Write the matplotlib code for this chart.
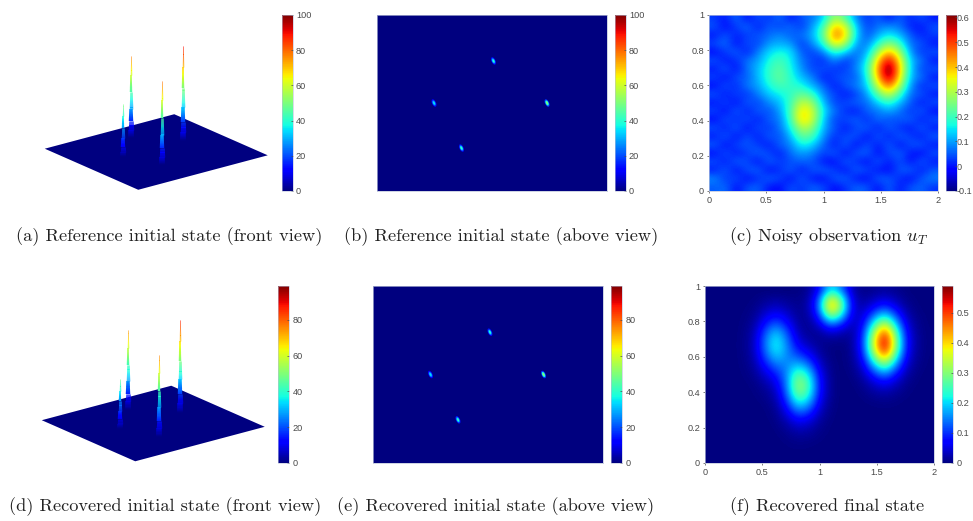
import numpy as np
import matplotlib
matplotlib.use("Agg")
import matplotlib.pyplot as plt
from matplotlib.colors import Normalize
from matplotlib.markers import MarkerStyle
from matplotlib.transforms import Affine2D
from mpl_toolkits.mplot3d import proj3d
from mpl_toolkits.mplot3d.art3d import Line3DCollection

# ---------- data ----------
captions = ["(a) Reference initial state (front view)", "(b) Reference initial state (above view)",
            r"(c) Noisy observation $u_T$", "(d) Recovered initial state (front view)",
            "(e) Recovered initial state (above view)", "(f) Recovered final state"]
spike_x_3d = [0.38, 0.89, 1.45, 0.89]
spike_y_3d = [0.53, 0.28, 0.385, 0.745]
spike_z_top = [78, 50, 80, 90]
spike_z_top_rec = [75, 47, 77, 88]
spike_x_top = [1.017, 0.50, 1.483, 0.739]
spike_y_top = [0.739, 0.50, 0.50, 0.244]
spike_level_top = [38, 34, 50, 40]
plane_x = [0, 2]
plane_y = [0, 1]
height_frac = [0, .1, .2, .3, .5, .7, .85, 1]
width_px = [6, 5.5, 4.5, 3.8, 2.8, 1.8, 1.2, .6]
grid_ticks_x = [0, 0.5, 1, 1.5, 2]
grid_ticks_x_labels = ["0", "0.5", "1", "1.5", "2"]
grid_ticks_y = [0, 0.2, 0.4, 0.6, 0.8, 1]
grid_ticks_y_labels = ["0", "0.2", "0.4", "0.6", "0.8", "1"]
cb_ticks_100 = [0, 20, 40, 60, 80, 100]
cb_ticks_rec = [0, 20, 40, 60, 80]
cb_ticks_c = [-0.1, 0, 0.1, 0.2, 0.3, 0.4, 0.5, 0.6]
cb_ticks_f = [0, 0.1, 0.2, 0.3, 0.4, 0.5]

# rows run from y=1.0 down to y=0.0 in 0.05 steps, columns x=0..2 in 0.1 steps
noisy_obs = [
 [.03,.00,.07,-.01,.05,.02,.07,.00,.05,.07,.13,.29,.22,.08,.02,.06,.00,.06,.01,.05,.00],
 [.05,-.01,.03,.07,.00,.06,.03,.07,.02,.10,.20,.41,.35,.13,.03,.07,.09,.07,.01,.00,.05],
 [.00,.05,.01,.03,.05,.06,.09,.05,.07,.11,.23,.47,.39,.14,.04,.11,.16,.12,.05,.01,.03],
 [.04,.07,-.01,.05,.03,.10,.11,.10,.02,.09,.18,.38,.30,.10,.07,.18,.27,.20,.06,.05,.00],
 [-.01,.03,.06,.00,.08,.14,.17,.15,.05,.03,.08,.19,.14,.06,.11,.28,.42,.29,.09,.02,.05],
 [.05,.00,.02,.07,.10,.17,.21,.16,.07,.04,.01,.09,.02,.07,.15,.39,.57,.37,.12,.07,.00],
 [.00,.06,-.01,.07,.12,.19,.23,.17,.09,.03,.05,.02,.03,.08,.18,.44,.65,.40,.13,.03,.05],
 [.04,-.01,.05,.05,.12,.19,.24,.18,.12,.08,.00,.04,.05,.05,.16,.41,.62,.37,.11,.07,.00],
 [-.01,.05,.01,.08,.10,.17,.21,.19,.17,.11,.06,.00,.05,.08,.13,.33,.48,.30,.09,.01,.05],
 [.05,.00,.04,.02,.08,.13,.16,.19,.24,.20,.08,.04,.00,.03,.10,.23,.33,.20,.06,.05,.00],
 [.00,.04,-.01,.06,.03,.09,.12,.20,.32,.28,.12,.03,.04,.06,.06,.14,.19,.12,.05,.00,.05],
 [.04,-.01,.06,.00,.06,.04,.10,.21,.39,.33,.15,.07,.02,.00,.06,.07,.11,.07,.02,.06,-.01],
 [-.01,.05,.01,.05,.00,.06,.07,.20,.40,.33,.13,.03,.04,.06,.01,.07,.04,.05,.06,.00,.05],
 [.05,.00,.06,-.01,.05,.02,.07,.16,.31,.27,.11,.05,.00,.04,.06,.00,.06,.02,.00,.06,.00],
 [.00,.06,-.01,.05,.00,.06,.04,.12,.24,.21,.09,.02,.04,.05,-.01,.06,.00,.06,.03,.00,.06],
 [.06,-.01,.04,.05,.03,.00,.06,.08,.17,.14,.06,.00,.06,-.01,.05,.00,.06,-.01,.05,.05,.00],
 [-.01,.05,.00,.03,.06,.04,.00,.07,.10,.08,.03,.06,-.01,.05,.06,-.01,.04,.06,.00,-.01,.05],
 [.05,.00,.06,.04,-.01,.06,.03,.04,.06,.05,.00,-.01,.06,.02,-.01,.06,.00,.05,-.01,.06,.00],
 [.00,.06,-.01,.05,.06,-.01,.02,.06,.00,.05,.06,.03,-.01,.06,.04,.00,-.01,.05,.06,.00,.05],
 [.09,.02,.05,-.01,.02,.06,.04,-.01,.06,.00,-.01,.05,.06,.00,-.01,.06,.05,.02,-.01,.05,.08],
 [.05,.07,-.01,.05,.06,.00,-.01,.05,.02,.06,.04,-.01,.02,.06,.05,-.01,.06,.00,.05,.06,.02],
]
recovered_final = [
 [0,0,0,0,0,0,0,0,.002,.01,.07,.22,.15,.025,.005,.011,.017,.009,.002,0,0],
 [0,0,0,0,.002,.01,.016,.01,.005,.017,.122,.383,.261,.045,.011,.03,.046,.025,.006,.001,0],
 [0,0,0,.001,.005,.024,.039,.024,.008,.021,.14,.44,.30,.052,.023,.07,.11,.059,.014,.002,0],
 [0,0,0,.002,.01,.048,.078,.048,.012,.015,.10,.317,.216,.041,.041,.141,.22,.118,.029,.005,.001],
 [0,0,0,.003,.017,.081,.133,.081,.018,.009,.048,.15,.102,.025,.064,.233,.365,.195,.047,.008,.001],
 [0,0,0,.004,.025,.118,.193,.121,.031,.01,.016,.044,.03,.015,.087,.322,.505,.27,.065,.01,.002],
 [0,0,0,.005,.029,.137,.226,.146,.051,.022,.009,.01,.006,.013,.099,.366,.574,.307,.074,.012,.002],
 [0,0,0,.005,.029,.134,.224,.156,.083,.048,.014,.002,0,.011,.095,.352,.551,.295,.071,.011,.002],
 [0,0,0,.004,.023,.11,.186,.153,.132,.091,.027,.003,0,.009,.074,.274,.429,.229,.056,.009,.001],
 [0,0,0,.003,.016,.075,.134,.149,.202,.153,.046,.006,0,.006,.048,.178,.278,.149,.036,.006,.001],
 [0,0,0,.002,.009,.044,.086,.151,.278,.219,.067,.008,0,.003,.026,.096,.151,.081,.02,.003,0],
 [0,0,0,.001,.004,.022,.052,.147,.318,.256,.078,.01,0,.001,.012,.044,.07,.037,.009,.001,0],
 [0,0,0,0,.002,.01,.033,.133,.309,.25,.077,.01,0,0,.005,.019,.029,.016,.004,0,0],
 [0,0,0,0,.001,.005,.021,.104,.25,.203,.062,.008,0,0,.002,.006,.009,.005,.001,0,0],
 [0,0,0,0,0,.001,.011,.069,.17,.138,.042,.005,0,0,0,.001,.002,.001,0,0,0],
 [0,0,0,0,0,.001,.006,.039,.096,.078,.024,.003,0,0,0,0,0,0,0,0,0],
 [0,0,0,0,0,0,.003,.018,.045,.036,.011,.001,0,0,0,0,0,0,0,0,0],
 [0,0,0,0,0,0,.001,.008,.019,.016,.005,.001,0,0,0,0,0,0,0,0,0],
 [0,0,0,0,0,0,0,.003,.006,.005,.002,0,0,0,0,0,0,0,0,0,0],
 [0,0,0,0,0,0,0,.001,.002,.001,0,0,0,0,0,0,0,0,0,0,0],
 [0,0,0,0,0,0,0,0,0,0,0,0,0,0,0,0,0,0,0,0,0],
]

# ---------- style ----------
W, H = 973, 521
plt.rcParams["font.family"] = ["Liberation Sans", "DejaVu Sans"]
plt.rcParams["mathtext.fontset"] = "cm"
plt.rcParams["axes.unicode_minus"] = False
TICK = "#4a4a4a"
EDGE = "#b8c0d8"
CMAP = "jet"
fig = plt.figure(figsize=(W / 100, H / 100), dpi=100)


def rect(x0, y0, x1, y1):
    return [x0 / W, 1 - y1 / H, (x1 - x0) / W, (y1 - y0) / H]


def colorbar(mappable, box, ticks, pad=2.5):
    cax = fig.add_axes(rect(*box))
    cb = fig.colorbar(mappable, cax=cax, ticks=ticks)
    cb.ax.tick_params(length=1.5, width=0.5, color=TICK, labelcolor=TICK, labelsize=6.6,
                      direction="in", pad=pad)
    cb.ax.set_yticklabels([str(t) for t in ticks])
    cb.outline.set_linewidth(0.4)
    cb.outline.set_edgecolor(EDGE)
    return cb


def front_view(targets, tops, norm, cb_box, ticks):
    ax = fig.add_axes(rect(20, 20, 280, 280), projection="3d", computed_zorder=False)
    ax.patch.set_alpha(0)
    ax.set_proj_type("ortho")
    ax.view_init(elev=20, azim=-37.9)
    ax.set_box_aspect((159.5, 172, 118))
    ax.set_xlim(0, 2, view_margin=0)
    ax.set_ylim(0, 1, view_margin=0)
    ax.set_zlim(0, 100, view_margin=0)
    ax.set_axis_off()
    px, py = np.meshgrid(plane_x, plane_y)
    ax.plot_surface(px, py, np.zeros_like(px, dtype=float), color=plt.get_cmap(CMAP)(0.0),
                    shade=False, linewidth=0, antialiased=True, zorder=1)
    order = np.argsort(spike_y_3d)[::-1]
    for rank, i in enumerate(order):
        zs = np.arange(0, tops[i] + 1, 1.0)
        segs = [[(spike_x_3d[i], spike_y_3d[i], a), (spike_x_3d[i], spike_y_3d[i], b)]
                for a, b in zip(zs[:-1], zs[1:])]
        mids = (zs[:-1] + zs[1:]) / 2
        lw = np.interp(mids / tops[i], height_frac, width_px) * 0.72
        lc = Line3DCollection(segs, colors=plt.get_cmap(CMAP)(norm(mids)), linewidths=lw,
                              capstyle="butt", zorder=2 + rank)
        ax.add_collection3d(lc)

    # fit the axes so that the plane corners land where the reference has them
    def corners():
        fig.canvas.draw()
        xs, ys, _ = proj3d.proj_transform(np.array([0., 2., 2., 0.]), np.array([0., 0., 1., 1.]),
                                          np.zeros(4), ax.get_proj())
        return ax.transData.transform(np.column_stack([xs, ys]))

    goal = np.array([[tx, H - ty] for tx, ty in targets], dtype=float)
    p = corners()
    k = (goal[:, 0].max() - goal[:, 0].min()) / (p[:, 0].max() - p[:, 0].min())
    pos = ax.get_position()
    ax.set_position([pos.x0, pos.y0, pos.width * k, pos.height * k])
    p = corners()
    d = goal.mean(axis=0) - p.mean(axis=0)
    pos = ax.get_position()
    ax.set_position([pos.x0 + d[0] / W, pos.y0 + d[1] / H, pos.width, pos.height])
    sm = plt.cm.ScalarMappable(norm=norm, cmap=CMAP)
    colorbar(sm, cb_box, ticks)


def above_view(box, norm, cb_box, ticks):
    ax = fig.add_axes(rect(*box))
    im = ax.imshow(np.zeros((2, 2)), extent=(0, 2, 0, 1), aspect="auto", cmap=CMAP, norm=norm,
                   origin="lower")
    ax.set_xticks([])
    ax.set_yticks([])
    for s in ax.spines.values():
        s.set_linewidth(0.5)
        s.set_edgecolor(EDGE)
    cmap = plt.get_cmap(CMAP)
    shape = Affine2D().scale(0.5, 1).rotate_deg(25)
    for size, frac in [(34, 0.35), (16, 0.75), (6, 1.0)]:
        levels = [v * frac for v in spike_level_top]
        ax.scatter(spike_x_top, spike_y_top, s=size, c=cmap(norm(levels)),
                   marker=MarkerStyle("o", transform=shape), linewidths=0, zorder=3)
    colorbar(im, cb_box, ticks)


def heatmap(box, values, norm, cb_box, ticks, cb_pad=2.5):
    ax = fig.add_axes(rect(*box))
    im = ax.imshow(np.array(values), extent=(0, 2, 0, 1), aspect="auto", cmap=CMAP, norm=norm,
                   origin="upper", interpolation="bicubic")
    ax.set_xticks(grid_ticks_x, grid_ticks_x_labels)
    ax.set_yticks(grid_ticks_y, grid_ticks_y_labels)
    ax.tick_params(length=1.5, width=0.5, color=TICK, labelcolor=TICK, labelsize=6.6,
                   direction="out", pad=2)
    for s in ax.spines.values():
        s.set_linewidth(0.5)
        s.set_edgecolor(EDGE)
    colorbar(im, cb_box, ticks, pad=cb_pad)


front_view([(42, 148), (140, 191), (265, 157), (178, 112)], spike_z_top, Normalize(0, 100),
           (282, 15, 292.5, 191), cb_ticks_100)
above_view((376.5, 15, 606.5, 191), Normalize(0, 100), (615, 15, 625.5, 191), cb_ticks_100)
heatmap((709, 15, 938, 191), noisy_obs, Normalize(-0.1, 0.61), (946, 15, 956.5, 191), cb_ticks_c,
        cb_pad=0.4)
front_view([(39, 420), (137, 462), (262, 428), (175, 384)], spike_z_top_rec, Normalize(0, 99),
           (278, 286, 289, 463), cb_ticks_rec)
above_view((373, 286, 603, 463), Normalize(0, 99), (611, 286, 622, 463), cb_ticks_rec)
heatmap((705, 286, 934, 463), recovered_final, Normalize(0, 0.59), (942, 286, 953, 463), cb_ticks_f)

cap_pos = [(169.5, 241.5), (501, 241.5), (829, 241.5), (165.5, 511.5), (496, 511.5), (827, 511.5)]
for (cx, cy), text in zip(cap_pos, captions):
    fig.text(cx / W, 1 - cy / H, text, family="cmr10", fontsize=13.2, color="#222222",
             ha="center", va="baseline")

fig.savefig("out.png", dpi=100)
